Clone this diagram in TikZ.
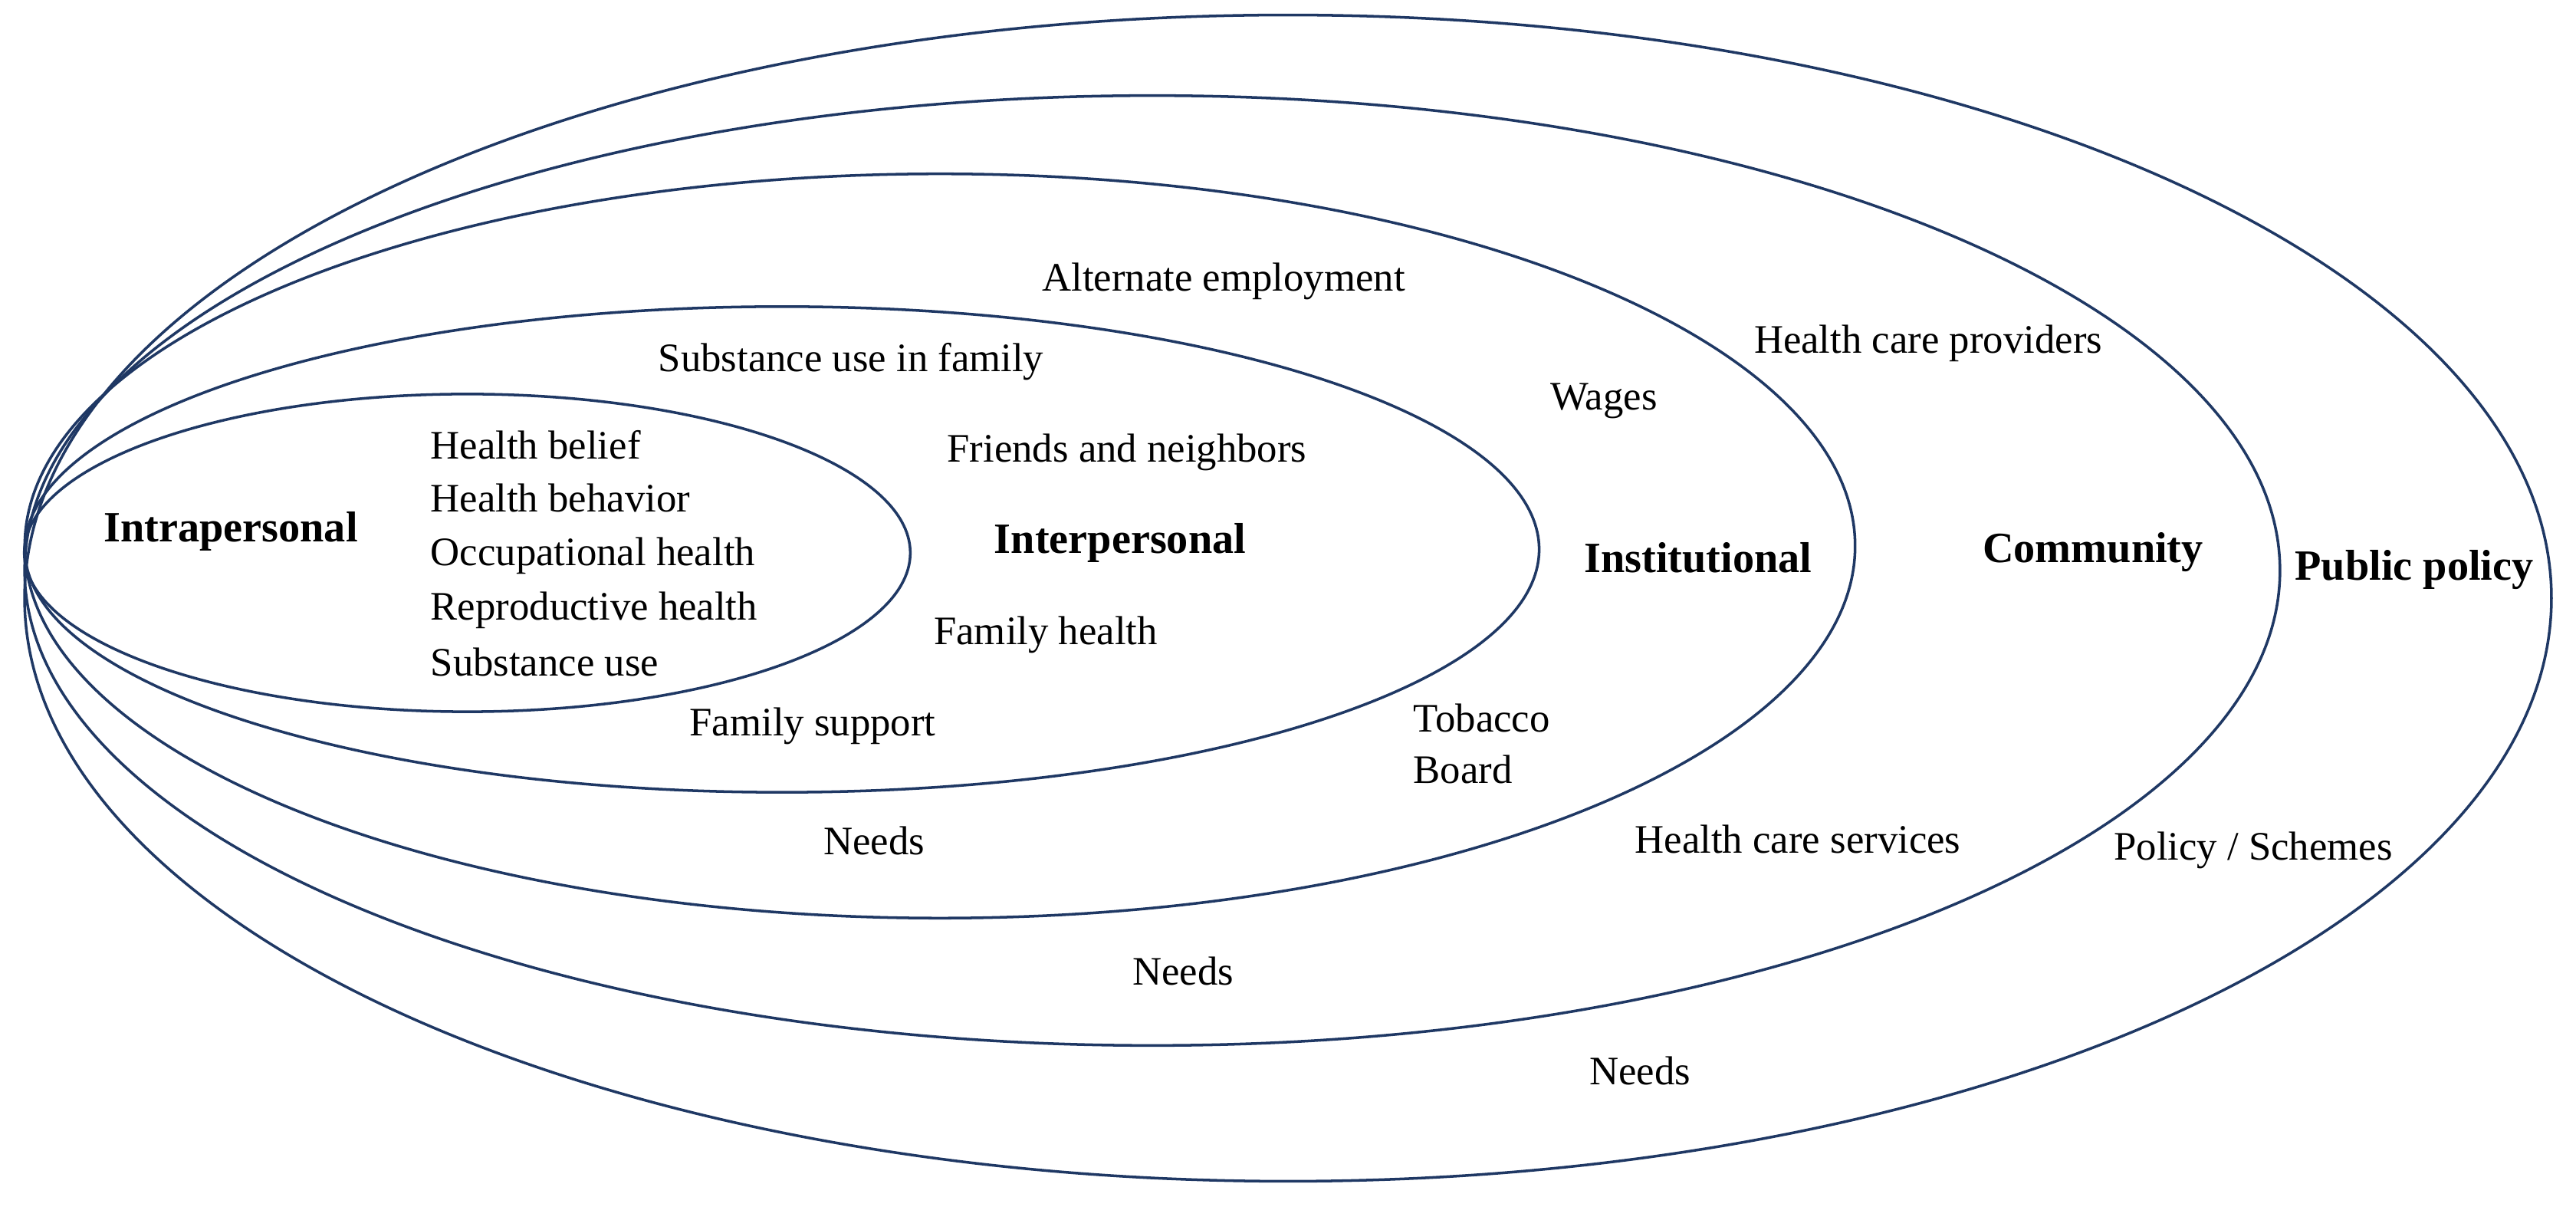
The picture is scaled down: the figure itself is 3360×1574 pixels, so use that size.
\documentclass[tikz,border=0pt]{standalone}
\usepackage{fontspec}
\setmainfont{Liberation Serif}
\definecolor{ringc}{RGB}{31,56,100}
\begin{document}
\begin{tikzpicture}[x=0.01cm,y=-0.01cm,
  ring/.style={draw=ringc, line width=1pt},
  lbl/.style={font=\fontsize{15}{18}\selectfont, inner sep=0pt, anchor=base},
  lblw/.style={lbl, anchor=base west},
  lvl/.style={font=\fontsize{16}{19}\selectfont\bfseries, inner sep=0pt, anchor=base}]
\useasboundingbox (0,0) rectangle (3360,1574);
% ellipses (outer to inner)
\draw[ring] (1680,780) ellipse [x radius=16.47cm, y radius=7.60cm];
\draw[ring] (1503,744) ellipse [x radius=14.70cm, y radius=6.19cm];
\draw[ring] (1226,712) ellipse [x radius=11.93cm, y radius=4.85cm];
\draw[ring] (1020,716.5) ellipse [x radius=9.87cm, y radius=3.165cm];
\draw[ring] (609.5,721) ellipse [x radius=5.775cm, y radius=2.07cm];
% level titles
\node[lvl] (intra) at (301,707) {Intrapersonal};
\node[lvl] (inter) at (1461,722) {Interpersonal};
\node[lvl] (inst) at (2215,747) {Institutional};
\node[lvl] (comm) at (2730,734) {Community};
\node[lvl] (pub) at (3149,757) {Public policy};
% intrapersonal factors
\node[lblw] (hb1) at (561,599) {Health belief};
\node[lblw] (hb2) at (561,668) {Health behavior};
\node[lblw] (oh) at (561,738) {Occupational health};
\node[lblw] (rh) at (561,809) {Reproductive health};
\node[lblw] (su) at (561,882) {Substance use};
% interpersonal factors
\node[lbl] (suf) at (1110,485) {Substance use in family};
\node[lbl] (fn) at (1470,603) {Friends and neighbors};
\node[lbl] (fh) at (1364,841) {Family health};
\node[lbl] (fs) at (1060,960) {Family support};
% institutional factors
\node[lbl] (ae) at (1596,380) {Alternate employment};
\node[lbl] (wg) at (2092,535) {Wages};
\node[lblw] (tb1) at (1843,955) {Tobacco};
\node[lblw] (tb2) at (1843,1022) {Board};
\node[lbl] (nd1) at (1140,1115) {Needs};
% community factors
\node[lbl] (hcp) at (2515,461) {Health care providers};
\node[lbl] (hcs) at (2345,1113) {Health care services};
\node[lbl] (nd2) at (1543,1285) {Needs};
% public policy factors
\node[lbl] (ps) at (2939,1122) {Policy / Schemes};
\node[lbl] (nd3) at (2139,1415) {Needs};
\end{tikzpicture}
\end{document}
